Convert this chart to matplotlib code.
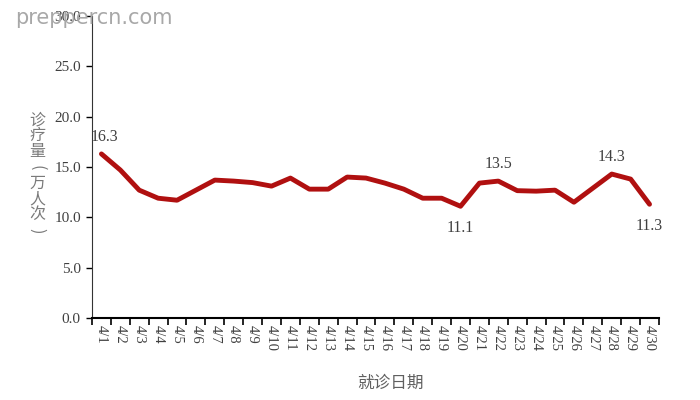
import matplotlib
matplotlib.use("Agg")
import matplotlib.pyplot as plt
import numpy as np

plt.rcParams['font.family'] = ['Liberation Serif', 'Noto Sans CJK SC', 'DejaVu Sans']

dates = ["4/%d" % d for d in range(1, 31)]
visits = [16.3, 14.7, 12.7, 11.9, 11.7, 12.7, 13.7, 13.6, 13.45, 13.1,
          13.9, 12.8, 12.8, 14.0, 13.9, 13.4, 12.8, 11.9, 11.9, 11.1,
          13.4, 13.6, 12.65, 12.6, 12.7, 11.5, 12.9, 14.3, 13.8, 11.3]
# (index, text, above?)
labels = [(0, "16.3", True), (19, "11.1", False), (21, "13.5", True),
          (27, "14.3", True), (29, "11.3", False)]
ylabel = "诊疗量（万人次）"

grey = "#404040"
cjk = ['Noto Sans CJK SC', 'DejaVu Sans']

fig = plt.figure(figsize=(7, 4), dpi=100)
ax = fig.add_axes([0.1314, 0.205, 0.81, 0.755])

x = np.arange(len(dates))
ax.plot(x, visits, color="#B01010", lw=3.5, solid_joinstyle="round", solid_capstyle="round")

for i, t, up in labels:
    off = 12 if up else -16
    ax.annotate(t, (x[i], visits[i]), xytext=(2 if i == 0 else 0, off), textcoords="offset points",
                ha="center", va="center", fontsize=11.5, color=grey)

ax.set_xlim(-0.5, len(dates) - 0.5)
ax.set_ylim(0, 30)
ax.set_yticks(np.arange(0, 30.1, 5))
ax.set_yticklabels(["%.1f" % v for v in np.arange(0, 30.1, 5)], fontsize=11, color=grey)

ax.set_xticks(np.arange(-0.5, len(dates), 1))
ax.set_xticklabels([])
ax.set_xticks(x, minor=True)
ax.set_xticklabels(dates, minor=True, rotation=270, fontsize=10.5, color=grey, va="top")
ax.tick_params(axis="x", which="minor", length=0, pad=5)
ax.tick_params(axis="x", which="major", length=5, width=1.2, direction="out")
ax.tick_params(axis="y", length=4, width=1, direction="out", pad=4)

for s in ["top", "right"]:
    ax.spines[s].set_visible(False)
ax.spines["left"].set_color("#333333")
ax.spines["bottom"].set_color("black")
ax.spines["bottom"].set_linewidth(1.5)

# vertical y label, one character per line, brackets turned
brackets = {"（": "(", "）": ")"}
for k, ch in enumerate(ylabel):
    rot = 270 if ch in brackets else 0
    fig.text(37 / 700, 1 - (120 + k * 15.8) / 400, brackets.get(ch, ch), ha="center", va="center",
             fontsize=11.5, color="#7a7a7a", family=cjk, rotation=rot)

fig.text(0.558, 0.042, "就诊日期", ha="center", va="center", fontsize=12, color="#606060",
         family=cjk)

fig.text(0.022, 0.955, "preppercn.com", ha="left", va="center", fontsize=15, color="#A8A8A8",
         family=['DejaVu Sans'])

fig.savefig("out.png", dpi=100)
